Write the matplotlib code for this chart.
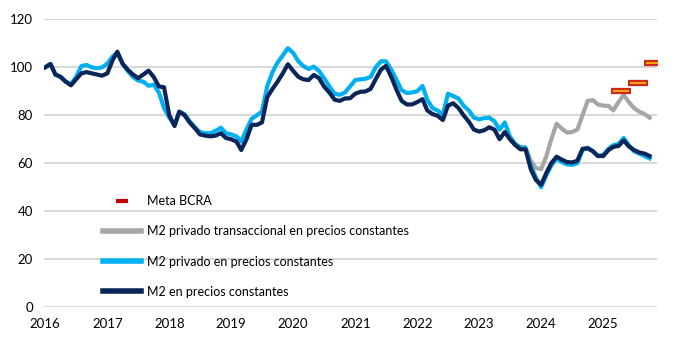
import matplotlib
matplotlib.use("Agg")
import matplotlib.pyplot as plt
import matplotlib.dates as mdates
from matplotlib.lines import Line2D
import pandas as pd

months = pd.date_range("2016-01-01", periods=118, freq="MS")

m2_total = [
    100, 101.4, 97, 96, 94, 92.5, 95, 97.5, 98, 97.5, 97, 96.5,
    97.5, 103, 106.5, 101.5, 99, 97, 95.5, 97, 98.6, 96, 92, 91.7,
    80, 75.5, 81.5, 80, 77, 74.6, 72, 71.5, 71.2, 71.5, 72.5, 70.5,
    70, 69, 65.5, 70, 76, 76, 77, 87.5, 91, 94, 97.5, 101.3,
    98.5, 96, 95, 94.7, 96.8, 95.5, 92, 89.5, 86.5, 86, 87, 87.1,
    89, 89.8, 89.9, 91, 95, 99, 100.6, 96, 90.6, 86, 84.5, 84.5,
    85.5, 86.7, 82, 80.5, 79.8, 78, 84, 85, 83, 80, 77.3, 74,
    73.2, 73.8, 75, 74, 70, 73, 70, 67.6, 65.8, 65.8, 57.5, 53,
    51, 56, 60, 62.7, 61.5, 60.5, 60.3, 61, 66, 66.2, 65, 63,
    63, 65.5, 66.8, 67.2, 69.5, 67, 65.5, 64.5, 64, 63,
]

m2_privado = [
    100, 101.4, 97, 96, 94, 93, 96, 100.5, 101, 100, 99.6, 100,
    101.5, 104.5, 106, 101.5, 98.5, 96, 94.5, 94, 92.3, 92.7, 89.5, 83,
    79, 76, 81.5, 80.5, 77.5, 75, 73, 72.5, 72.5, 73.5, 74.8, 72.5,
    72, 71.2, 69, 74, 78.5, 80, 81.5, 92, 98, 102, 105, 108,
    106, 102.5, 100.5, 99.3, 100.3, 98.5, 95.5, 92, 89, 88.5, 89.5, 92,
    94.7, 95, 95.2, 96, 100, 102.5, 102.5, 99, 94.7, 90.5, 89.3, 89.5,
    90, 92.2, 86.5, 83, 82, 80.1, 89, 88, 87, 84, 82, 79,
    78.3, 78.8, 79, 77.5, 74, 77, 71, 68, 66.6, 66.5, 59, 54,
    50, 55, 59, 62, 60.5, 59.5, 59.3, 60, 65.5, 66.5, 65, 63,
    63.5, 66, 67.5, 68, 70.5, 67.5, 65, 64, 63, 62,
]

# transaccional series only from mid 2023
m2_trans = [
    71, 68, 66.6, 66.5, 61, 58, 57.5, 63, 70, 76.5, 74.5, 72.8,
    73, 74, 80, 86, 86.3, 84.5, 84, 83.9, 82, 85.5, 88.5, 85.5,
    83, 81.5, 80.5, 79,
]
trans_months = months[-len(m2_trans):]

meta_dates = pd.to_datetime(["2025-04-13", "2025-07-22", "2025-10-25"])
meta_vals = [90, 93.4, 102]

years = list(range(2016, 2026))

navy = "#0b2559"
light = "#00b0f0"
gray = "#a6a6a6"
red = "#d0281e"
yellow = "#ffc000"

plt.rcParams["font.family"] = ["Lato", "DejaVu Sans"]

fig = plt.figure(figsize=(6.8, 3.4), dpi=100)
ax = fig.add_axes([0.065, 0.097, 0.901, 0.846])

ax.plot(trans_months, m2_trans, color=gray, lw=3, solid_joinstyle="round", zorder=3)
ax.plot(months, m2_privado, color=light, lw=3, solid_joinstyle="round", zorder=4)
ax.plot(months, m2_total, color=navy, lw=3, solid_joinstyle="round", zorder=5)
ax.plot(meta_dates, meta_vals, ls="none", marker="_", ms=15, mew=4.5, color=red, zorder=6)
ax.plot(meta_dates, meta_vals, ls="none", marker="_", ms=11.5, mew=1.2, color=yellow, zorder=7)

ax.set_ylim(0, 120)
ax.set_yticks(range(0, 121, 20))
ax.set_xlim(pd.Timestamp("2015-12-26"), pd.Timestamp("2025-11-13"))
ax.set_xticks([pd.Timestamp(f"{y}-01-01") for y in years])
ax.xaxis.set_major_formatter(mdates.DateFormatter("%Y"))

ax.grid(axis="y", color="#d9d9d9", lw=1.5)
ax.set_axisbelow(True)
for s in ax.spines.values():
    s.set_visible(False)
ax.tick_params(length=0, labelsize=9.5, colors="#000000")
ax.tick_params(axis="x", pad=8)
ax.tick_params(axis="y", pad=8)

handles = [
    Line2D([], [], ls="none", marker="_", ms=8, mew=3, color="#c00000"),
    Line2D([], [], color=gray, lw=4),
    Line2D([], [], color=light, lw=4),
    Line2D([], [], color=navy, lw=4),
]
labels = [
    "Meta BCRA",
    "M2 privado transaccional en precios constantes",
    "M2 privado en precios constantes",
    "M2 en precios constantes",
]
ax.legend(handles, labels, loc="upper left", bbox_to_anchor=(0.085, 0.41),
          frameon=False, fontsize=9, handlelength=3.1, handletextpad=0.45,
          labelspacing=1.45, borderpad=0)

fig.savefig("out.png", dpi=100)
